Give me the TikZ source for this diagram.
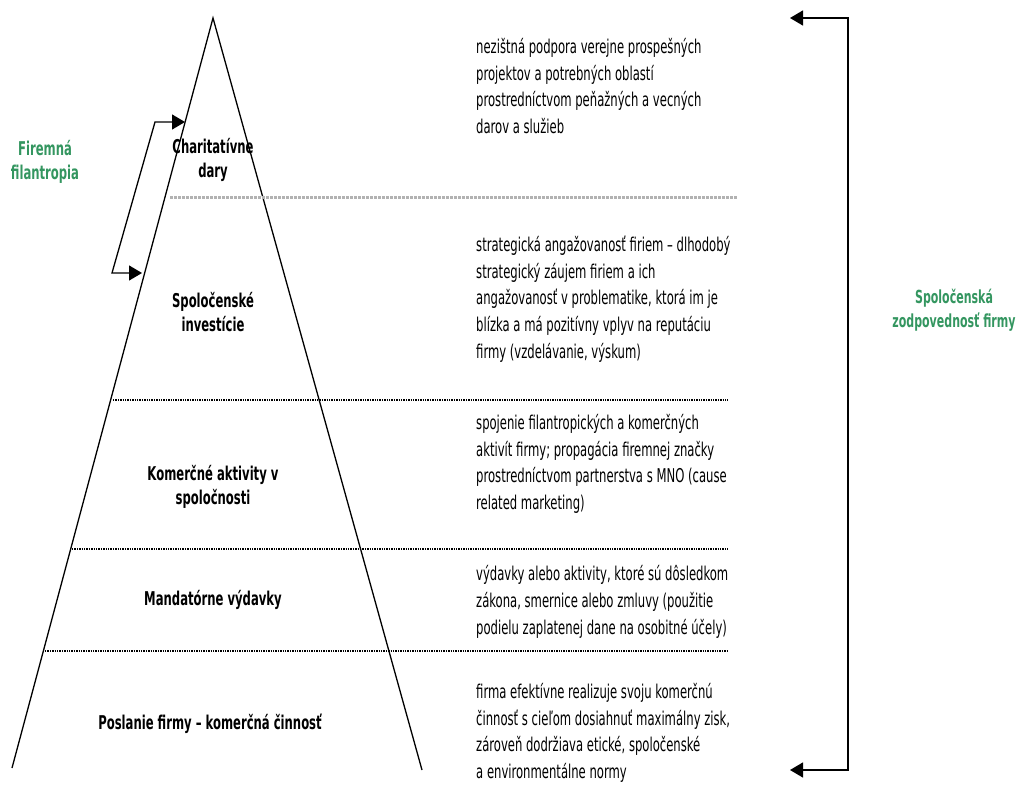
\documentclass[tikz,border=0pt]{standalone}
\usepackage{fontspec}
\setmainfont{DejaVu Sans Condensed}[FakeStretch=0.68]
\usepackage{tikz}
\usetikzlibrary{arrows.meta,positioning,calc}
\definecolor{csrgreen}{RGB}{52,150,96}

\begin{document}
\begin{tikzpicture}[
  x=1pt, y=-1pt,
  font=\fontsize{19}{26.7}\selectfont,
  >={Triangle[length=13pt,width=15pt]},
  level/.style={font=\fontsize{19}{24}\selectfont\bfseries, align=center, inner sep=0pt},
  desc/.style={anchor=west, align=left, inner sep=0pt},
  side/.style={level, text=csrgreen},
  sep/.style={densely dotted, line width=1.4pt},
  arr/.style={<->, line width=1.3pt}
]
  \useasboundingbox (0,0) rectangle (1018,803);

  % Pyramid
  \coordinate (apex) at (213,18);
  \coordinate (bl) at (12,768);
  \coordinate (br) at (422,770);
  \draw[line width=1.3pt] (bl) -- (apex) -- (br);

  % Level separators
  \draw[sep, gray!60, line width=3pt] (170,197) -- (737,197);
  \draw[sep] (113,400) -- (728,400);
  \draw[sep] (72,549) -- (728,549);
  \draw[sep] (45,651) -- (728,651);

  % Levels of the pyramid
  \node[level] (char) at (213,160) {Charitatívne\\dary};
  \node[level] (inv) at (213,312) {Spoločenské\\investície};
  \node[level] (kom) at (213,487) {Komerčné aktivity v\\spoločnosti};
  \node[level] (mand) at (213,600) {Mandatórne výdavky};
  \node[level] (posl) at (210,724) {Poslanie firmy – komerčná činnosť};

  % Descriptions
  \node[desc] (dchar) at (476,86) {nezištná podpora verejne prospešných\\
    projektov a potrebných oblastí\\
    prostredníctvom peňažných a vecných\\
    darov a služieb};
  \node[desc] (dinv) at (476,299) {strategická angažovanosť firiem – dlhodobý\\
    strategický záujem firiem a ich\\
    angažovanosť v problematike, ktorá im je\\
    blízka a má pozitívny vplyv na reputáciu\\
    firmy (vzdelávanie, výskum)};
  \node[desc] (dkom) at (476,464) {spojenie filantropických a komerčných\\
    aktivít firmy; propagácia firemnej značky\\
    prostredníctvom partnerstva s MNO (cause\\
    related marketing)};
  \node[desc] (dmand) at (476,602) {výdavky alebo aktivity, ktoré sú dôsledkom\\
    zákona, smernice alebo zmluvy (použitie\\
    podielu zaplatenej dane na osobitné účely)};
  \node[desc] (dposl) at (476,733) {firma efektívne realizuje svoju komerčnú\\
    činnosť s cieľom dosiahnuť maximálny zisk,\\
    zároveň dodržiava etické, spoločenské\\
    a environmentálne normy};

  % Side labels
  \node[side] (fil) at (45,162) {Firemná\\filantropia};
  \node[side, font=\fontsize{18}{24}\selectfont\bfseries] (csr) at (954,310) {Spoločenská\\zodpovednosť firmy};

  % Brackets
  \coordinate (filin) at (142,273);
  \coordinate (filout) at (185,122);
  \draw[arr] (filin) -- (112,273) -- (155,122) -- (filout);
  \coordinate (csrtop) at (790,18);
  \coordinate (csrbot) at (790,770);
  \draw[arr] (csrtop) -- (848,18) -- (848,770) -- (csrbot);

\end{tikzpicture}
\end{document}
